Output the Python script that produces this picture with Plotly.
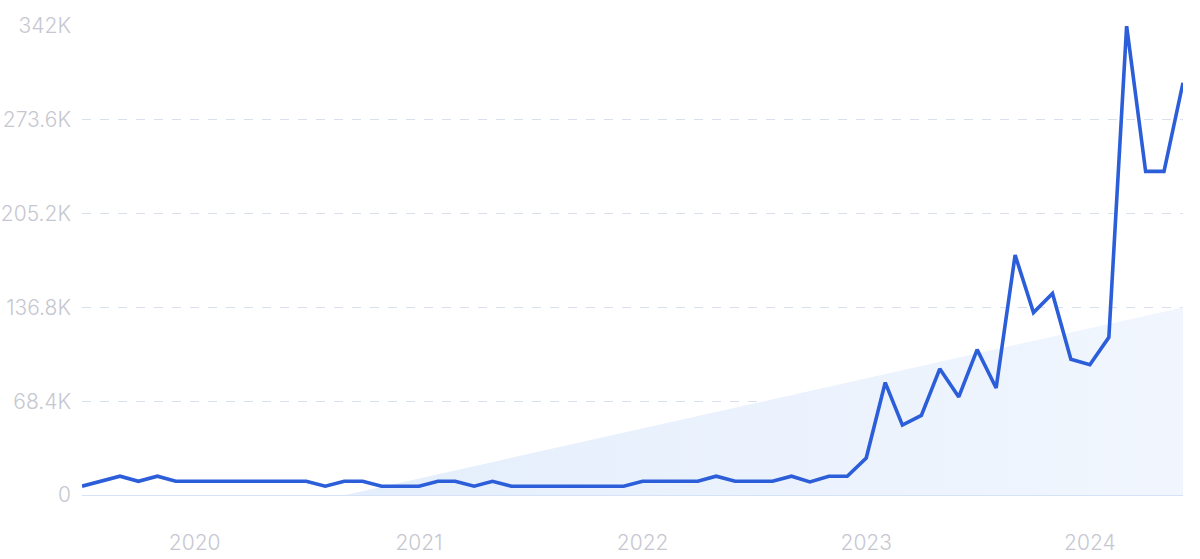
import plotly.graph_objects as go
import pandas as pd

# Monthly data Jul 2019 – Jun 2024
months = pd.date_range("2019-07-01", "2024-06-01", freq="MS").strftime("%Y-%m-%d").tolist()
values = [
    6.4, 10, 13.7, 10, 13.7, 10,                               # 2019 Jul-Dec
    10, 10, 10, 10, 10, 10, 10, 6.4, 10, 10, 6.4, 6.4,         # 2020
    6.4, 10, 10, 6.4, 10, 6.4, 6.4, 6.4, 6.4, 6.4, 6.4, 6.4,   # 2021
    10, 10, 10, 10, 13.7, 10, 10, 10, 13.7, 9.5, 13.7, 13.7,   # 2022
    27, 82, 51, 58, 92, 71.5, 106, 78, 175, 133, 147, 99,      # 2023
    95, 115, 342, 236, 236, 300.6,                             # 2024 Jan-Jun
]
values = [v * 1000 for v in values]

# Trend (linear) area
trend_x = ["2020-09-03", "2024-06-01"]
trend_y = [0, 136800]

# Axis ticks
y_ticks = [0, 68400, 136800, 205200, 273600, 342000]
y_labels = ["0", "68.4K", "136.8K", "205.2K", "273.6K", "342K"]
x_ticks = ["2020-01-01", "2021-01-01", "2022-01-01", "2023-01-01", "2024-01-01"]
x_labels = ["2020", "2021", "2022", "2023", "2024"]

fig = go.Figure()
fig.add_trace(go.Scatter(
    x=trend_x, y=trend_y, mode="lines", line=dict(width=0),
    fill="tozeroy",
    fillgradient=dict(type="horizontal",
                      colorscale=[[0, "#e4eefc"], [1, "#f1f6fe"]]),
    hoverinfo="skip", showlegend=False,
))
fig.add_trace(go.Scatter(
    x=months, y=values, mode="lines",
    line=dict(color="#2b5ed8", width=3.6),
    showlegend=False, cliponaxis=False,
))

tick_font = dict(family="Inter, Lato, sans-serif", size=21, color="#c6c7d0", weight=300)
fig.update_layout(
    width=1200, height=559,
    margin=dict(l=82, r=17, t=26, b=63.5),
    paper_bgcolor="white", plot_bgcolor="white",
    xaxis=dict(
        range=["2019-07-01", "2024-06-01"],
        tickvals=x_ticks, ticktext=x_labels,
        showgrid=False, zeroline=False,
        showline=True, linecolor="#d6e2f5", linewidth=1,
        ticks="", tickfont=tick_font, ticklabelstandoff=29,
        automargin=False,
    ),
    yaxis=dict(
        range=[0, 342000],
        tickvals=y_ticks, ticktext=y_labels,
        showgrid=True, gridcolor="#d8e0ed", griddash="dash", gridwidth=1,
        zeroline=False, showline=False,
        ticks="", tickfont=tick_font, ticklabelstandoff=10,
        automargin=False,
    ),
)

fig.write_html("out.html", config={"displayModeBar": False},
               post_script="document.body.style.margin='0px';")
